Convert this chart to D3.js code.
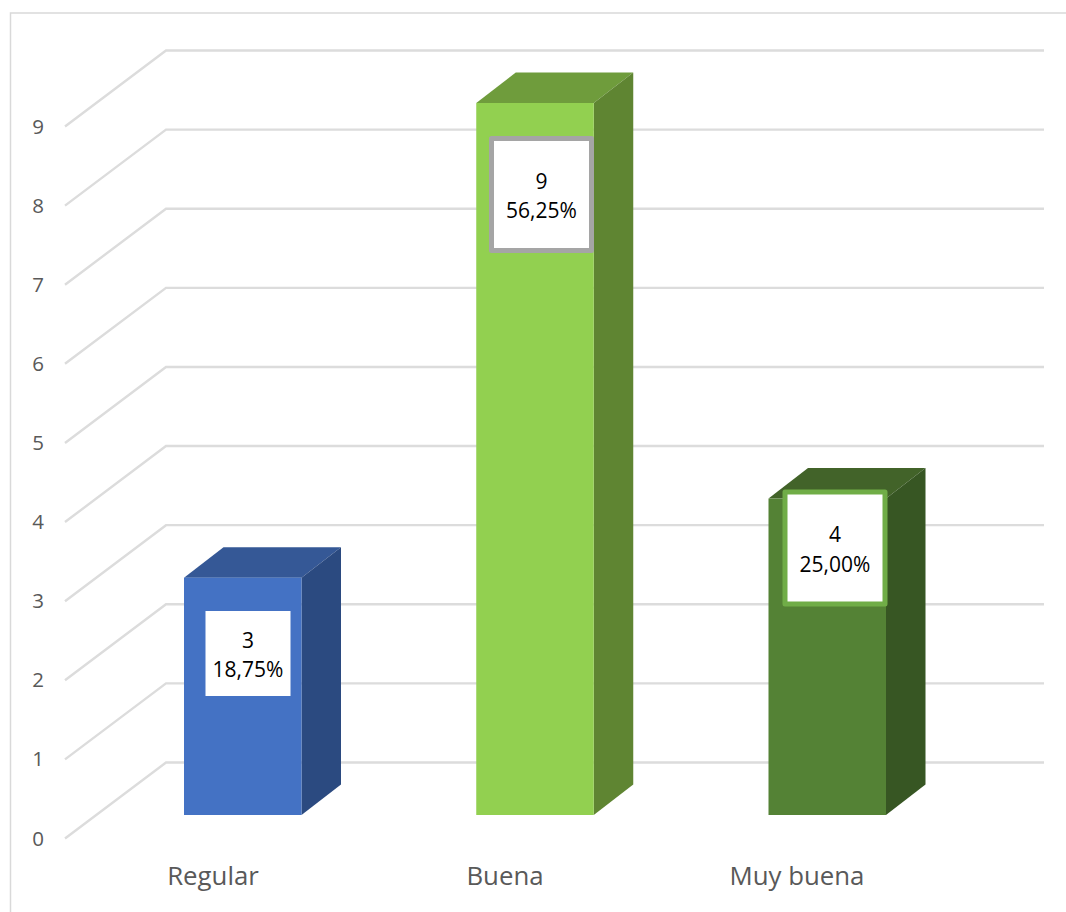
<!DOCTYPE html>
<html>
<head>
<meta charset="utf-8">
<script src="https://cdn.jsdelivr.net/npm/d3@7"></script>
<style>
  html, body { margin: 0; padding: 0; background: #fff; }
  svg { display: block; }
  text { font-family: "Open Sans", "Noto Sans", sans-serif; }
</style>
</head>
<body>
<div id="chart"></div>
<script>
var categories = ['Regular', 'Buena', 'Muy buena'];
var values = [3, 9, 4];
var percents = ['18,75%', '56,25%', '25,00%'];
var yTicks = [0, 1, 2, 3, 4, 5, 6, 7, 8, 9];

var frontColors = ['#4472c4', '#92d050', '#548235'];
var sideColors = ['#2b4a80', '#5f8532', '#375623'];
var topColors = ['#355896', '#6f9c3c', '#426329'];
var labelBorders = [null, '#a5a5a5', '#70ad47'];

var width = 1066, height = 912;

var svg = d3.select('#chart').append('svg')
    .attr('width', width)
    .attr('height', height);

// outer frame
svg.append('path')
    .attr('d', 'M10.5,912V13H1066')
    .attr('fill', 'none')
    .attr('stroke', '#d9d9d9')
    .attr('stroke-width', 1.5);

// back wall scale, floor is shifted from it
var y = d3.scaleLinear().domain([0, 9]).range([762.5, 50.5]);
var x = d3.scalePoint().domain(categories).range([184, 768.5]);
var gridLeft = 166, gridRight = 1044;
var wallDx = 101, wallDy = 76;
var barW = 117.5, depthX = 39.5, depthY = 30.5;
var barShift = 52.5;

var grid = svg.append('g');
yTicks.forEach(function(t) {
  grid.append('path')
      .attr('d', 'M' + (gridLeft - wallDx) + ',' + (y(t) + wallDy) + 'L' + gridLeft + ',' + y(t) + 'H' + gridRight)
      .attr('fill', 'none')
      .attr('stroke', '#dcdcdc')
      .attr('stroke-width', 2.4);
  svg.append('text')
      .attr('x', 38)
      .attr('y', y(t) + wallDy + 7)
      .attr('text-anchor', 'middle')
      .attr('font-size', 20.5)
      .attr('fill', '#595959')
      .text(t);
});

var bars = svg.selectAll('g.bar')
    .data(categories)
    .enter().append('g')
    .attr('class', 'bar');

bars.each(function(c, i) {
  var g = d3.select(this);
  var x0 = x(c), x1 = x0 + barW;
  var yt = y(values[i]) + barShift, yb = y(0) + barShift;

  g.append('polygon')
      .attr('points', [[x0, yt], [x0 + depthX, yt - depthY], [x1 + depthX, yt - depthY], [x1, yt]].join(' '))
      .attr('fill', topColors[i]);
  g.append('polygon')
      .attr('points', [[x1, yt], [x1 + depthX, yt - depthY], [x1 + depthX, yb - depthY], [x1, yb]].join(' '))
      .attr('fill', sideColors[i]);
  g.append('rect')
      .attr('x', x0).attr('y', yt)
      .attr('width', barW).attr('height', yb - yt)
      .attr('fill', frontColors[i]);
});

// data label boxes
var labelX = [248, 541.5, 835];
var labelY = [653.5, 194.5, 548];
var boxW = [85, 100, 100], boxH = [85, 112, 112];

categories.forEach(function(c, i) {
  var g = svg.append('g');
  g.append('rect')
      .attr('x', labelX[i] - boxW[i] / 2)
      .attr('y', labelY[i] - boxH[i] / 2)
      .attr('width', boxW[i])
      .attr('height', boxH[i])
      .attr('fill', '#fff')
      .attr('stroke', labelBorders[i] || 'none')
      .attr('stroke-width', 5)
      .attr('stroke-linejoin', 'round');
  g.append('text')
      .attr('x', labelX[i]).attr('y', labelY[i] - 6)
      .attr('text-anchor', 'middle')
      .attr('font-size', 21)
      .attr('fill', '#000')
      .text(values[i]);
  g.append('text')
      .attr('x', labelX[i]).attr('y', labelY[i] + 23.5)
      .attr('text-anchor', 'middle')
      .attr('font-size', 21)
      .attr('fill', '#000')
      .text(percents[i]);
});

// category labels
var catX = [213, 505, 797];
categories.forEach(function(c, i) {
  svg.append('text')
      .attr('x', catX[i])
      .attr('y', 885)
      .attr('text-anchor', 'middle')
      .attr('font-size', 25.8)
      .attr('fill', '#595959')
      .text(c);
});
</script>
</body>
</html>
